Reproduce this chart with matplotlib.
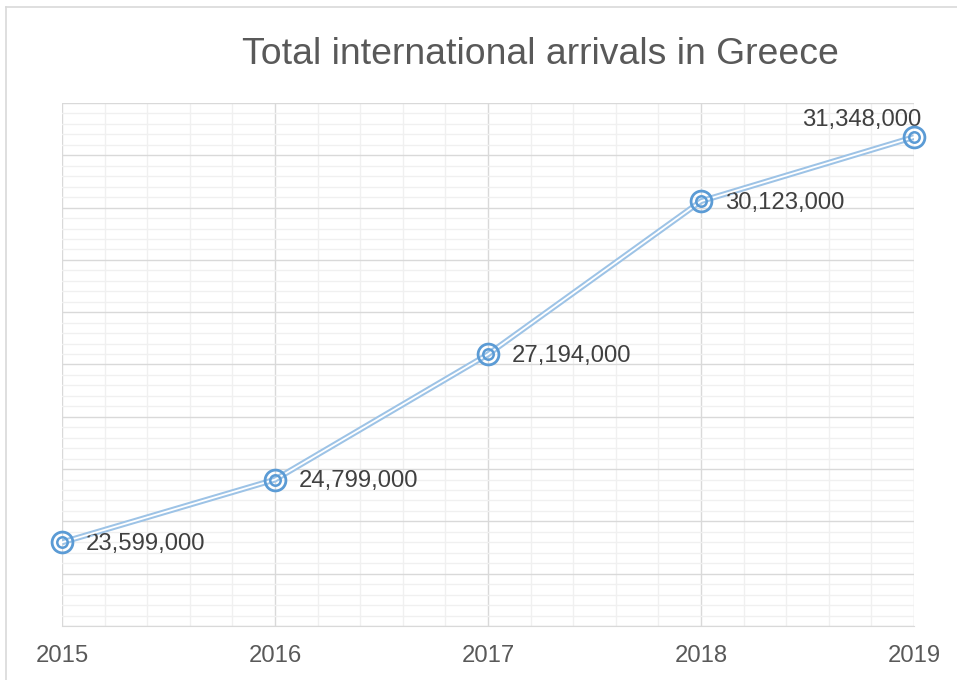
import matplotlib
matplotlib.use("Agg")
import matplotlib.pyplot as plt
from matplotlib.ticker import MultipleLocator
from matplotlib.lines import Line2D

plt.rcParams['font.family'] = ['Liberation Sans', 'DejaVu Sans']

# === Data ===
years = [2015, 2016, 2017, 2018, 2019]
arrivals = [23599000, 24799000, 27194000, 30123000, 31348000]
labels = ["23,599,000", "24,799,000", "27,194,000", "30,123,000", "31,348,000"]

line_col = '#9DC3E6'
marker_col = '#5B9BD5'
text_col = '#595959'

fig = plt.figure(figsize=(9.57, 6.80), dpi=100)
ax = fig.add_axes([62 / 957, 54 / 680, 852 / 957, 523 / 680])

# Grid
ax.set_xlim(2015, 2019)
ax.set_ylim(22e6, 32e6)
ax.xaxis.set_major_locator(MultipleLocator(1))
ax.xaxis.set_minor_locator(MultipleLocator(0.2))
ax.yaxis.set_major_locator(MultipleLocator(1e6))
ax.yaxis.set_minor_locator(MultipleLocator(2e5))
ax.grid(which='major', color='#D9D9D9', linewidth=1.0)
ax.grid(which='minor', color='#F0F0F0', linewidth=1.0)
ax.set_axisbelow(True)
for s in ['top', 'right', 'left']:
    ax.spines[s].set_visible(False)
ax.spines['bottom'].set_color('#D9D9D9')

ax.tick_params(axis='both', which='both', length=0)
ax.tick_params(axis='x', labelsize=17.2, labelcolor=text_col, pad=14)
ax.set_yticklabels([])
ax.set_xticks(years)
ax.set_xticklabels([str(y) for y in years])

# Double line: thick light blue with thin white core
ax.plot(years, arrivals, color=line_col, linewidth=4.2, solid_capstyle='butt', zorder=3)
ax.plot(years, arrivals, color='white', linewidth=1.3, zorder=4)

# Double-ring markers
ax.plot(years, arrivals, linestyle='none', marker='o', markersize=15,
        markerfacecolor='none', markeredgecolor=marker_col, markeredgewidth=2.0,
        clip_on=False, zorder=5)
ax.plot(years, arrivals, linestyle='none', marker='o', markersize=7.5,
        markerfacecolor='none', markeredgecolor=marker_col, markeredgewidth=1.8,
        clip_on=False, zorder=5)

# Data labels
for i, (x, y, lab) in enumerate(zip(years, arrivals, labels)):
    if i == len(years) - 1:
        ax.annotate(lab, (x, y), xytext=(5, 12), textcoords='offset points',
                    ha='right', va='center', fontsize=17.2, color='#404040')
    else:
        ax.annotate(lab, (x, y), xytext=(17, -1), textcoords='offset points',
                    ha='left', va='center', fontsize=17.2, color='#404040')

# Title
fig.text(540 / 957, 1 - 55 / 680, 'Total international arrivals in Greece',
         ha='center', va='center', fontsize=26.9, color=text_col)

# Chart border (top and left edges visible)
fig.add_artist(Line2D([6 / 957, 1], [1 - 7 / 680, 1 - 7 / 680],
                      transform=fig.transFigure, color='#D9D9D9', linewidth=1.2))
fig.add_artist(Line2D([6 / 957, 6 / 957], [0, 1 - 7 / 680],
                      transform=fig.transFigure, color='#D9D9D9', linewidth=1.2))

fig.savefig('out.png', dpi=100)
